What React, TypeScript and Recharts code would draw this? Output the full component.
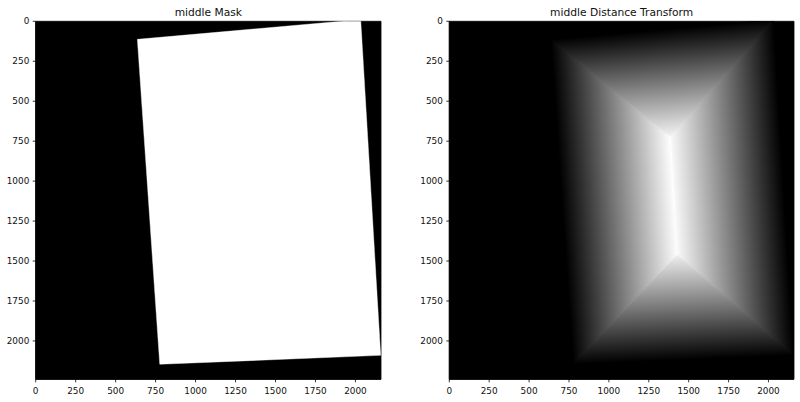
import { ScatterChart, Scatter, XAxis, YAxis, CartesianGrid, ReferenceArea } from 'recharts'

const imageWidth = 2160
const imageHeight = 2240
const axisTicks = [0, 250, 500, 750, 1000, 1250, 1500, 1750, 2000]

// page corners in image pixels, clockwise from top-left
const maskCorners = [
  { x: 636, y: 113 },
  { x: 2033, y: -11 },
  { x: 2158, y: 2090 },
  { x: 776, y: 2146 },
]

// ends of the bright ridge in the distance map
const ridgePoints = [
  { x: 1385, y: 728 },
  { x: 1428, y: 1455 },
]

const titles = ['middle Mask', 'middle Distance Transform']

type Pt = { x: number; y: number }

const [tl, tr, br, bl] = maskCorners
const [ridgeTop, ridgeBottom] = ridgePoints

// the first two points of each region are the page edge it is measured from
const regions = [
  { id: 'dt-top', points: [tl, tr, ridgeTop] },
  { id: 'dt-bottom', points: [br, bl, ridgeBottom] },
  { id: 'dt-right', points: [tr, br, ridgeBottom, ridgeTop] },
  { id: 'dt-left', points: [bl, tl, ridgeTop, ridgeBottom] },
]

function edgeDistance(p: Pt, a: Pt, b: Pt) {
  const dx = b.x - a.x
  const dy = b.y - a.y
  return Math.abs((p.x - a.x) * dy - (p.y - a.y) * dx) / Math.hypot(dx, dy)
}

// imshow normalises to the largest distance
const peak = Math.max(
  ...regions.flatMap(r => r.points.slice(2).map(p => edgeDistance(p, r.points[0], r.points[1])))
)

const font = 'DejaVu Sans'
const tickStyle = { fontSize: 8.9, fill: '#111', fontFamily: font }

const EmptyShape = () => <g />

function polygonPoints(pts: Pt[]) {
  return pts.map(p => `${p.x},${p.y}`).join(' ')
}

function maskLine(props: any) {
  return <polygon points={polygonPoints(props.points)} fill="#fff" stroke="#fff" strokeWidth={0.4} />
}

function regionLine(region: { id: string; points: Pt[] }) {
  return (props: any) => {
    const pts: Pt[] = props.points
    const [a, b] = pts
    const [da, db] = region.points
    const len = Math.hypot(b.x - a.x, b.y - a.y)
    const k = len / Math.hypot(db.x - da.x, db.y - da.y)
    let nx = -(b.y - a.y) / len
    let ny = (b.x - a.x) / len
    const c = pts[2]
    if ((c.x - a.x) * nx + (c.y - a.y) * ny < 0) {
      nx = -nx
      ny = -ny
    }
    const reach = peak * k
    const paint = `url(#${region.id})`
    return (
      <g>
        <defs>
          <linearGradient
            id={region.id}
            gradientUnits="userSpaceOnUse"
            x1={a.x}
            y1={a.y}
            x2={a.x + nx * reach}
            y2={a.y + ny * reach}
          >
            <stop offset="0" stopColor="#000" />
            <stop offset="1" stopColor="#fff" />
          </linearGradient>
        </defs>
        <polygon points={polygonPoints(pts)} fill={paint} stroke={paint} strokeWidth={1.2} strokeLinejoin="round" />
      </g>
    )
  }
}

function Panel({ left, yWidth, right, children }: any) {
  return (
    <div style={{ position: 'absolute', left, top: 0 }}>
      <ScatterChart
        width={400}
        height={402}
        margin={{ top: 21.3, right, bottom: 0.7, left: 0 }}
      >
        <CartesianGrid fill="#000" stroke="none" horizontal={false} vertical={false} />
        <XAxis
          type="number"
          dataKey="x"
          domain={[0, imageWidth]}
          allowDataOverflow
          ticks={axisTicks}
          interval={0}
          height={22}
          tickSize={3}
          tickMargin={5}
          tick={tickStyle}
          tickLine={{ stroke: '#000', strokeWidth: 0.8 }}
          axisLine={{ stroke: '#000', strokeWidth: 0.8 }}
        />
        <YAxis
          type="number"
          dataKey="y"
          reversed
          domain={[0, imageHeight]}
          allowDataOverflow
          ticks={axisTicks}
          interval={0}
          width={yWidth}
          tickSize={3}
          tickMargin={3.4}
          tick={tickStyle}
          tickLine={{ stroke: '#000', strokeWidth: 0.8 }}
          axisLine={{ stroke: '#000', strokeWidth: 0.8 }}
        />
        {children}
        <ReferenceArea
          x1={0}
          x2={imageWidth}
          y1={0}
          y2={imageHeight}
          fill="none"
          stroke="#000"
          strokeWidth={0.8}
        />
      </ScatterChart>
    </div>
  )
}

export default function App() {
  return (
    <div style={{ position: 'absolute', left: 0, top: 0, width: 800, height: 402, background: '#fff' }}>
      <Panel left={0} yWidth={35.7} right={19}>
        <Scatter
          data={maskCorners}
          shape={EmptyShape}
          line={maskLine}
          lineType="joint"
          isAnimationActive={false}
        />
      </Panel>
      <Panel left={400} yWidth={49.3} right={6}>
        {regions.map(r => (
          <Scatter
            key={r.id}
            data={r.points}
            shape={EmptyShape}
            line={regionLine(r)}
            lineType="joint"
            isAnimationActive={false}
          />
        ))}
      </Panel>
      <svg
        width={800}
        height={30}
        style={{ position: 'absolute', left: 0, top: 0, pointerEvents: 'none' }}
      >
        <text x={208.35} y={16.3} textAnchor="middle" fontFamily={font} fontSize={10.7} fill="#111">
          {titles[0]}
        </text>
        <text x={621.65} y={16.3} textAnchor="middle" fontFamily={font} fontSize={10.7} fill="#111">
          {titles[1]}
        </text>
      </svg>
    </div>
  )
}
